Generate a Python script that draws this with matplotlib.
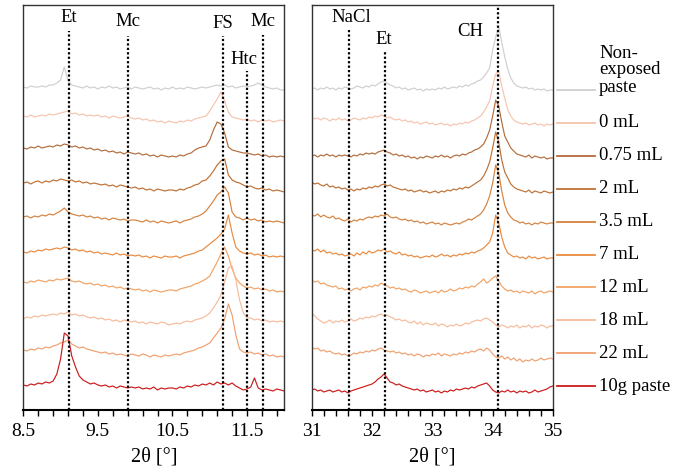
import numpy as np
import matplotlib
matplotlib.use("Agg")
import matplotlib.pyplot as plt
from matplotlib.lines import Line2D

plt.rcParams['font.family'] = 'serif'
plt.rcParams['font.serif'] = ['Liberation Serif', 'DejaVu Serif']

# samples, top to bottom
samples = ["Non-\nexposed\npaste", "0 mL", "0.75 mL", "2 mL", "3.5 mL",
           "7 mL", "12 mL", "18 mL", "22 mL", "10g paste"]
colors = ['#cfcfcf', '#f6c4ae', '#b36c3c', '#c07034', '#d5823e',
          '#e98a3f', '#f2a263', '#f7bb9b', '#f19f6f', '#cc1a1a']
# vertical stacking shift of each pattern
offsets = [320, 289, 253, 218, 187, 153, 118, 88, 53, 19]

# ---- 2theta 8.5 - 12.0, step 0.05 (relative intensity) ----
a_ref = [3, 2, 4, 3, 3, 4, 3, 5, 5, 7,
         10, 23, 9, 5, 4, 3, 2, 4, 2, 3,
         1, 3, 2, 4, 2, 3, 1, 2, 3, 1,
         3, 2, 1, 2, 3, 1, 2, 0, 2, 1,
         3, 1, 2, 1, 3, 2, 1, 2, 3, 2,
         3, 4, 5, 4, 5, 3, 4, 2, 3, 4,
         3, 4, 5, 7, 5, 3, 2, 1, 2, 0,
         0]
a_0 = [5, 4, 6, 4, 5, 6, 5, 7, 6, 7,
       8, 9, 10, 7, 8, 6, 7, 5, 6, 5,
       6, 4, 5, 3, 5, 4, 3, 4, 5, 3,
       2, 3, 1, 2, 0, 1, -1, 0, -2, 0,
       -1, -2, 0, -1, 1, 0, 2, 3, 4, 5,
       10, 16, 22, 29, 20, 9, 4, 3, 2, 1,
       2, 0, 1, -1, 1, 0, 1, -1, 0, 1,
       0]
a_075 = [9, 8, 10, 9, 11, 9, 10, 11, 10, 12,
         11, 13, 12, 10, 11, 9, 10, 8, 9, 7,
         8, 6, 7, 5, 6, 4, 5, 3, 5, 4,
         3, 4, 2, 3, 1, 2, 0, 2, 1, 0,
         1, 0, 2, 1, 3, 4, 7, 9, 10, 11,
         17, 27, 35, 33, 24, 10, 7, 6, 5, 4,
         4, 3, 2, 3, 1, 2, 0, 1, 0, 1,
         0]
a_2 = [9, 10, 8, 10, 11, 9, 11, 10, 12, 11,
       13, 12, 11, 12, 10, 11, 9, 10, 8, 9,
       8, 7, 8, 6, 7, 5, 7, 6, 5, 4,
       5, 3, 4, 2, 3, 1, 3, 2, 1, 2,
       2, 1, 3, 2, 4, 5, 7, 8, 11, 12,
       16, 21, 27, 31, 33, 17, 12, 10, 9, 7,
       5, 6, 4, 3, 4, 2, 3, 1, 2, 1,
       0]
a_35 = [6, 7, 5, 7, 6, 8, 7, 9, 8, 10,
        12, 15, 11, 9, 8, 7, 8, 6, 7, 5,
        6, 4, 5, 3, 5, 4, 3, 4, 2, 3,
        3, 2, 1, 3, 1, 2, 0, 2, 1, 0,
        1, 2, 0, 2, 3, 4, 6, 7, 9, 12,
        17, 22, 28, 31, 36, 30, 11, 6, 5, 3,
        5, 3, 4, 2, 3, 1, 2, 1, 2, 1,
        0]
a_7 = [5, 4, 6, 5, 7, 6, 8, 7, 8, 9,
       8, 10, 9, 7, 8, 6, 7, 5, 6, 4,
       5, 3, 4, 3, 2, 4, 2, 3, 1, 2,
       1, 2, 0, 1, -1, 1, 0, -1, 1, 0,
       0, 1, -1, 1, 2, 3, 4, 6, 7, 10,
       13, 16, 19, 23, 28, 42, 24, 10, 6, 4,
       3, 4, 2, 3, 1, 2, 0, 1, 0, 1,
       0]
a_12 = [10, 9, 11, 10, 12, 11, 10, 12, 11, 13,
        12, 13, 14, 11, 10, 11, 9, 8, 9, 7,
        8, 6, 7, 5, 6, 4, 5, 3, 4, 3,
        2, 3, 1, 2, 0, 2, 1, 0, 1, 2,
        2, 1, 3, 4, 5, 6, 8, 9, 11, 13,
        16, 23, 30, 38, 45, 36, 23, 14, 9, 6,
        4, 5, 3, 4, 2, 3, 1, 2, 0, 1,
        0]
a_18 = [3, 5, 4, 6, 5, 7, 6, 7, 8, 7,
        9, 8, 10, 7, 8, 6, 7, 5, 4, 5,
        3, 4, 2, 3, 1, 2, 0, 2, 1, 0,
        1, -1, 0, -2, 0, -1, -2, 0, -1, -3,
        -2, -1, -2, 0, 1, 0, 2, 3, 4, 6,
        9, 14, 20, 27, 40, 54, 56, 42, 22, 9,
        4, 4, 2, 3, 1, 2, 0, 1, 0, 1,
        0]
a_22 = [7, 6, 8, 7, 9, 8, 10, 9, 11, 12,
        14, 15, 17, 13, 11, 9, 10, 8, 7, 6,
        5, 4, 5, 3, 4, 2, 3, 2, 1, 3,
        2, 1, 3, 2, 0, 2, 1, 0, 2, 1,
        2, 3, 2, 4, 5, 6, 7, 9, 10, 12,
        14, 19, 24, 29, 38, 53, 42, 22, 8, 5,
        4, 5, 3, 4, 2, 3, 1, 2, 0, 1,
        0]
a_10g = [6, 5, 7, 6, 8, 7, 9, 8, 10, 17,
         32, 58, 55, 35, 24, 15, 11, 9, 7, 8,
         6, 5, 6, 4, 5, 3, 5, 4, 3, 4,
         3, 4, 2, 3, 2, 4, 1, 3, 2, 3,
         3, 2, 4, 3, 5, 4, 6, 5, 7, 6,
         8, 6, 9, 7, 8, 6, 8, 5, 3, 1,
         2, 4, 13, 3, 1, 2, 1, 0, 2, 1,
         0]

# ---- 2theta 31 - 35, step 0.05 (relative intensity) ----
b_ref = [1, 2, 0, 2, 1, 3, 1, 2, 0, 2,
         1, 3, 2, 1, 2, 4, 3, 2, 4, 3,
         5, 4, 6, 8, 9, 7, 5, 4, 2, 3,
         1, 2, 0, 1, 2, 0, 1, -1, 1, 0,
         1, 0, 2, 1, 3, 1, 2, 3, 2, 4,
         3, 5, 4, 6, 7, 9, 10, 13, 17, 22,
         40, 53, 63, 48, 33, 21, 12, 7, 4, 3,
         2, 3, 1, 2, 0, 1, 0, 1, -1, 0,
         0]
b_0 = [4, 2, 3, 1, 3, 2, 0, 2, 1, 3,
       1, 2, 0, 1, 3, 2, 1, 3, 2, 4,
       3, 5, 4, 6, 5, 3, 4, 2, 1, 2,
       0, 1, -1, 0, -2, -1, -3, -2, -1, -3,
       -2, -4, -3, -2, -4, -3, -5, -3, -4, -2,
       -3, -1, -2, 0, 1, 3, 5, 9, 14, 20,
       35, 47, 50, 35, 23, 11, 5, 1, -1, -2,
       -3, -2, -4, -3, -2, -4, -3, -5, -3, -4,
       -3]
b_075 = [1, 2, 0, 2, 1, 3, 1, 2, 0, 2,
         1, 2, 1, 0, 2, 1, 3, 2, 4, 3,
         4, 3, 5, 6, 7, 5, 4, 2, 3, 1,
         2, 0, 1, -1, 0, -2, 0, -1, 1, 0,
         -1, 1, 0, 2, 0, 1, -1, 1, 2, 1,
         3, 2, 4, 5, 7, 8, 10, 13, 19, 27,
         41, 57, 51, 35, 21, 15, 9, 6, 3, 2,
         1, 0, 2, -1, 1, 0, -1, 0, -2, -1,
         -1]
b_2 = [10, 8, 9, 7, 6, 8, 5, 6, 4, 5,
       3, 4, 2, 3, 1, 3, 2, 4, 3, 5,
       4, 6, 5, 7, 8, 6, 7, 5, 4, 3,
       2, 3, 1, 2, 0, 1, 2, 0, 1, -1,
       0, 1, -1, 1, 0, 2, 1, 3, 2, 4,
       3, 5, 4, 6, 8, 10, 12, 16, 22, 30,
       44, 60, 50, 32, 20, 14, 8, 5, 3, 2,
       1, 0, 2, -1, 1, 0, -1, 1, 0, -1,
       0]
b_35 = [8, 7, 9, 6, 8, 6, 5, 7, 4, 5,
        3, 2, 4, 1, 3, 2, 4, 3, 5, 6,
        5, 7, 6, 8, 7, 9, 6, 5, 6, 4,
        3, 4, 2, 3, 1, 2, 0, 1, -1, 0,
        1, -1, 0, -2, 0, -1, -2, -1, 0, -1,
        1, 2, 4, 3, 5, 7, 9, 13, 19, 27,
        40, 58, 50, 32, 18, 10, 6, 3, 2, 0,
        1, -1, 0, -2, 0, -1, 1, 0, -1, 0,
        0]
b_7 = [7, 6, 8, 5, 7, 4, 5, 3, 4, 2,
       3, 1, 2, 3, 1, 4, 2, 5, 3, 6,
       4, 5, 7, 6, 8, 5, 6, 4, 3, 5,
       2, 3, 1, 2, 0, 1, -1, 0, 1, 0,
       2, 0, 1, 3, 1, 2, 0, 2, 1, 3,
       2, 4, 3, 5, 4, 6, 7, 9, 12, 15,
       24, 42, 34, 20, 10, 4, 2, 0, 1, -1,
       0, -2, 1, -1, 0, -2, -1, 0, -2, -1,
       -1]
b_12 = [12, 10, 11, 8, 9, 7, 6, 5, 6, 3,
        4, 2, 3, 1, 3, 4, 2, 5, 4, 6,
        5, 7, 6, 9, 7, 6, 4, 5, 3, 4,
        2, 3, 1, 0, 2, 1, -1, 0, 1, -1,
        0, 1, -1, 2, 0, 1, 3, 1, 2, 4,
        3, 5, 4, 6, 5, 8, 10, 13, 9, 11,
        14, 16, 11, 6, 3, 1, 2, 0, 1, -1,
        1, 0, -1, 1, -2, 0, 1, -1, 0, 1,
        0]
b_18 = [9, 6, 3, 1, -1, 0, 2, -1, 1, 0,
        2, 0, 1, 3, 1, 2, 4, 3, 5, 4,
        6, 5, 7, 8, 6, 7, 5, 4, 2, 3,
        1, 2, 0, -1, 1, -2, 0, -3, -1, -2,
        -3, -1, -4, -2, -3, -5, -3, -4, -2, -4,
        -3, -1, -2, 0, 1, 2, 1, 3, 4, 2,
        0, -3, -5, -3, -4, -6, -4, -5, -3, -6,
        -4, -5, -3, -6, -4, -5, -3, -4, -6, -4,
        -4]
b_22 = [10, 8, 9, 6, 7, 5, 6, 4, 3, 4,
        2, 3, 1, 2, 4, 3, 5, 4, 6, 5,
        7, 6, 8, 9, 7, 6, 5, 6, 4, 5,
        3, 4, 2, 3, 1, 3, 2, 0, 2, 1,
        3, 2, 4, 1, 3, 2, 1, 3, 2, 4,
        3, 5, 4, 6, 5, 7, 8, 6, 9, 7,
        3, 0, -1, 1, -2, 0, -3, -1, -4, -2,
        -5, -3, -4, -2, -4, -3, -1, -3, -2, -1,
        -2]
b_10g = [1, 2, 0, 1, -1, 0, 1, -1, 0, 1,
         -1, 0, -2, 0, 1, 2, 3, 4, 5, 6,
         7, 9, 12, 14, 17, 13, 9, 8, 6, 7,
         5, 4, 3, 2, 1, 2, 0, 1, -1, 0,
         1, -1, 0, -2, 0, -1, 1, 0, 2, 1,
         2, 3, 2, 4, 3, 5, 6, 7, 8, 5,
         1, -1, -2, 0, -1, 1, -1, 0, -2, 0,
         -1, 0, -2, -1, 1, -1, 0, 1, 2, 4,
         5]

left_traces = [a_ref, a_0, a_075, a_2, a_35, a_7, a_12, a_18, a_22, a_10g]
right_traces = [b_ref, b_0, b_075, b_2, b_35, b_7, b_12, b_18, b_22, b_10g]

# reference phases and their 2theta positions
left_phases = ["Et", "Mc", "FS", "Htc", "Mc"]
left_phase_pos = [9.11, 9.90, 11.18, 11.50, 11.71]
right_phases = ["NaCl", "Et", "CH"]
right_phase_pos = [31.62, 32.21, 34.08]

# where the marker lines stop and where their labels sit
left_line_top = [379, 374, 374, 339, 375]
left_label_xy = [(9.11, 392), (9.90, 388), (11.18, 387), (11.46, 350), (11.71, 388)]
right_line_top = [380, 358, 405]
right_label_xy = [(31.66, 393), (32.19, 370), (33.63, 378)]

W, H = 686, 476
fig = plt.figure(figsize=(W / 100, H / 100), dpi=100)
ax1 = fig.add_axes([23.3 / W, 66 / H, 261 / W, 405 / H])
ax2 = fig.add_axes([311.7 / W, 66 / H, 241.3 / W, 405 / H])


def draw_panel(ax, lo, hi, traces, majors, names, pos, tops, label_xy):
    for vals, off, col in zip(traces, offsets, colors):
        x = np.linspace(lo, hi, len(vals))
        ax.plot(x, off + np.array(vals), color=col, lw=0.85)
    ax.vlines(pos, 0, tops, colors='black', linestyles=(0, (1, 1)), lw=1.6)
    for name, (tx, ty) in zip(names, label_xy):
        ax.text(tx, ty, name, ha='center', va='center', fontsize=13.5)
    ax.set_xlim(lo, hi)
    ax.set_ylim(0, 405)
    ax.set_yticks([])
    ax.set_xticks(majors)
    ax.set_xticks(np.arange(lo, hi + 0.001, 0.2), minor=True)
    ax.tick_params(axis='x', which='both', direction='out', length=4,
                   width=1, labelsize=14, pad=5)
    for s in ax.spines.values():
        s.set_color('#333333')
        s.set_linewidth(1.0)
    ax.spines['bottom'].set_color('black')
    ax.spines['bottom'].set_linewidth(1.5)
    ax.set_xlabel("2θ [°]", fontsize=14.5, labelpad=6)


draw_panel(ax1, 8.5, 12.0, left_traces, [8.5, 9.5, 10.5, 11.5],
           left_phases, left_phase_pos, left_line_top, left_label_xy)
draw_panel(ax2, 31.0, 35.0, right_traces, [31, 32, 33, 34, 35],
           right_phases, right_phase_pos, right_line_top, right_label_xy)
ax2.set_xticklabels(['31', '32', '33', '34', '35'])

# sample key on the right
for i, (lab, col) in enumerate(zip(samples, colors)):
    ypx = 90 + i * 32.9
    fig.add_artist(Line2D([557 / W, 595 / W], [1 - ypx / H] * 2, color=col, lw=1.3))
    nl = lab.count('\n')
    fig.text(599 / W, 1 - (ypx - nl * 10) / H, lab, ha='left', va='center',
             fontsize=13.5, linespacing=1.0)

fig.savefig("out.png", dpi=100)
